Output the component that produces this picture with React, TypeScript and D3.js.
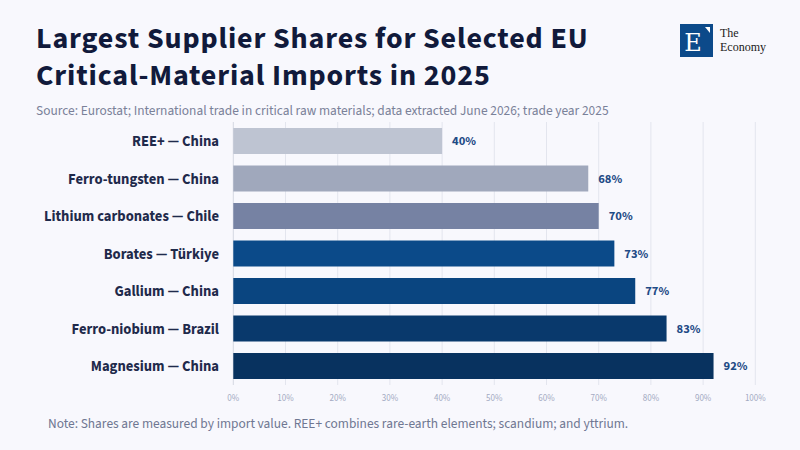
import { useEffect, useRef } from 'react'
import * as d3 from 'd3'

const MATERIALS = [
  'REE+ — China',
  'Ferro-tungsten — China',
  'Lithium carbonates — Chile',
  'Borates — Türkiye',
  'Gallium — China',
  'Ferro-niobium — Brazil',
  'Magnesium — China',
]
const SHARES = [40, 68, 70, 73, 77, 83, 92]
const BAR_COLORS = ['#bec4d2', '#a0a8bc', '#7682a3', '#0b4a89', '#0a4580', '#09396c', '#08325f']
const X_TICKS = [0, 10, 20, 30, 40, 50, 60, 70, 80, 90, 100]

const FONT = '"Source Sans 3", "Source Sans Pro", Lato, sans-serif'

export default function App() {
  const svgRef = useRef<SVGSVGElement>(null)

  useEffect(() => {
    if (!svgRef.current) return
    const W = 800
    const H = 450
    const svg = d3.select(svgRef.current).attr('viewBox', `0 0 ${W} ${H}`)
    svg.selectAll('*').remove()

    svg.append('rect').attr('width', W).attr('height', H).attr('fill', '#f8f8fd')

    // Title (one text, two lines) + source
    const title = ['Largest Supplier Shares for Selected EU', 'Critical-Material Imports in 2025']
    const titleText = svg.append('text').attr('x', 36).attr('y', 48)
      .attr('font-family', FONT).attr('font-size', 30).attr('font-weight', 700)
      .attr('letter-spacing', 0.85).attr('fill', '#111a3b')
    title.forEach((t, i) => {
      titleText.append('tspan').attr('x', 36).attr('dy', i === 0 ? 0 : 37).text(t)
    })
    svg.append('text').attr('x', 36).attr('y', 115)
      .attr('font-family', FONT).attr('font-size', 13.4).attr('fill', '#7a8199')
      .text('Source: Eurostat; International trade in critical raw materials; data extracted June 2026; trade year 2025')

    // Logo
    const logo = svg.append('g')
    logo.append('rect').attr('x', 680).attr('y', 24).attr('width', 33).attr('height', 33).attr('fill', '#0c4a8a')
    logo.append('text').attr('x', 693).attr('y', 51).attr('text-anchor', 'middle')
      .attr('font-family', '"DejaVu Serif", "Liberation Serif", serif').attr('font-size', 24)
      .attr('fill', 'white').text('E')
    logo.append('path').attr('d', 'M705,27 L710,27 L710,33 Z').attr('fill', 'white')
    logo.append('text').attr('x', 720).attr('y', 37)
      .attr('font-family', '"Liberation Serif", serif').attr('font-size', 12).attr('fill', '#1a1a1a').text('The')
    logo.append('text').attr('x', 720).attr('y', 50.5)
      .attr('font-family', '"Liberation Serif", serif').attr('font-size', 12).attr('fill', '#1a1a1a').text('Economy')

    // Chart area
    const left = 233.3
    const right = 755.3
    const top = 122
    const bottom = 385

    const x = d3.scaleLinear().domain([0, 100]).range([left, right])
    const y = d3.scaleBand<string>().domain(MATERIALS).range([top, bottom]).paddingInner(0.307).paddingOuter(0.16)

    const g = svg.append('g')

    X_TICKS.forEach((t) => {
      g.append('line').attr('x1', x(t)).attr('x2', x(t)).attr('y1', top).attr('y2', bottom)
        .attr('stroke', t === 0 ? '#d4d7e2' : '#e3e5ee').attr('stroke-width', 1)
      g.append('text').attr('x', x(t)).attr('y', 401).attr('text-anchor', 'middle')
        .attr('font-family', FONT).attr('font-size', 9).attr('fill', '#a3aac2')
        .text(`${t}%`)
    })

    MATERIALS.forEach((m, i) => {
      const yy = y(m) as number
      g.append('rect').attr('x', x(0)).attr('y', yy)
        .attr('width', x(SHARES[i]) - x(0)).attr('height', y.bandwidth())
        .attr('fill', BAR_COLORS[i])
      g.append('text').attr('x', x(SHARES[i]) + 10).attr('y', yy + y.bandwidth() / 2)
        .attr('dy', '0.35em').attr('font-family', FONT).attr('font-size', 12.5).attr('font-weight', 700)
        .attr('fill', '#1f4b86').text(`${SHARES[i]}%`)
      g.append('text').attr('x', 219).attr('y', yy + y.bandwidth() / 2)
        .attr('dy', '0.35em').attr('text-anchor', 'end')
        .attr('font-family', FONT).attr('font-size', 14.6).attr('font-weight', 700)
        .attr('fill', '#1f2a4b').text(m)
    })

    svg.append('text').attr('x', 48).attr('y', 428)
      .attr('font-family', FONT).attr('font-size', 13.4).attr('fill', '#6f7792')
      .text('Note: Shares are measured by import value. REE+ combines rare-earth elements; scandium; and yttrium.')
  }, [])

  return (
    <div style={{ position: 'absolute', left: 0, top: 0, width: 800, height: 450 }}>
      <svg ref={svgRef} width={800} height={450} style={{ display: 'block' }} />
    </div>
  )
}
